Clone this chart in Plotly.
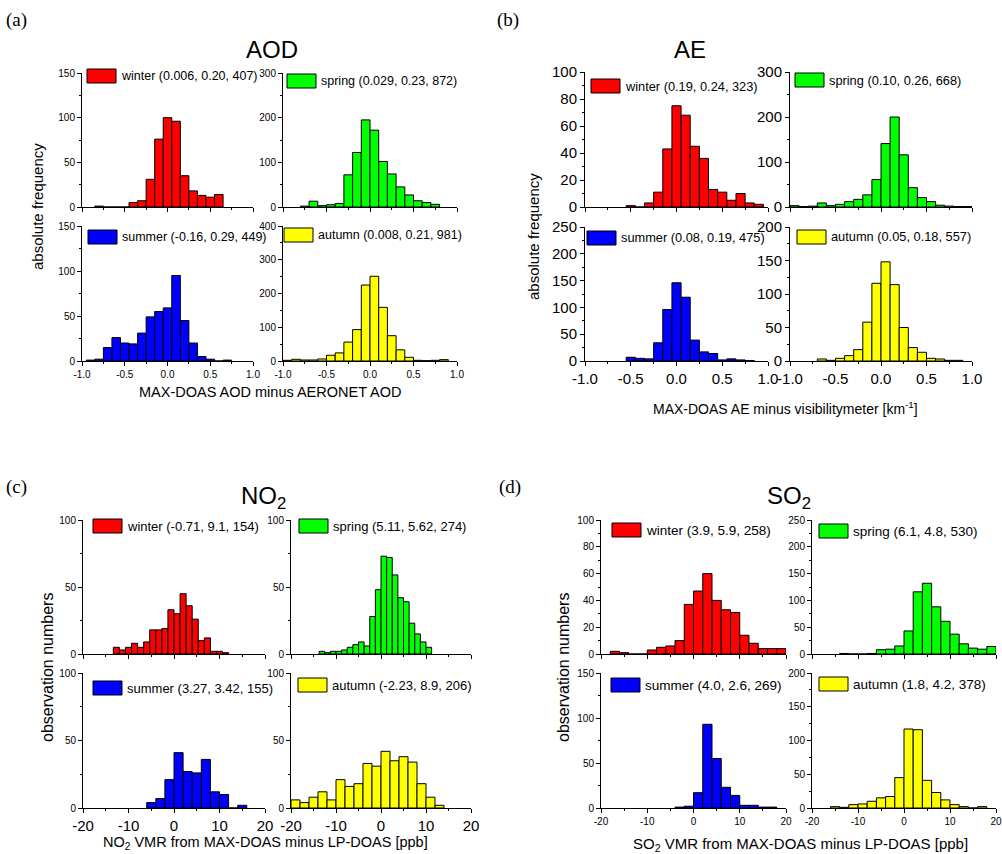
import numpy as np
import plotly.graph_objects as go

W, H = 1002, 854
FONT = "Arial, Liberation Sans, sans-serif"
SERIF = "Times New Roman, Liberation Serif, serif"

SEASONS = ["winter", "spring", "summer", "autumn"]
COLORS = ["#ff0000", "#00ff00", "#0000ff", "#ffff00"]

# ---- (a) AOD: MAX-DOAS minus AERONET (first bin left edge, bin width, counts)
aod_winter_lo, aod_winter_w = -0.85, 0.1
aod_winter = [1, 0, 0, 0, 5, 7, 31, 76, 100, 96, 35, 18, 13, 11, 14]
aod_spring_lo, aod_spring_w = -0.8, 0.1
aod_spring = [2, 13, 3, 5, 8, 72, 122, 195, 172, 102, 74, 45, 27, 14, 10, 6]
aod_summer_lo, aod_summer_w = -0.95, 0.1
aod_summer = [1, 2, 15, 26, 20, 19, 31, 49, 55, 59, 95, 45, 20, 5, 2, 0, 1]
aod_autumn_lo, aod_autumn_w = -1.0, 0.1
aod_autumn = [2, 5, 3, 3, 6, 17, 24, 56, 93, 225, 251, 159, 75, 33, 11, 2, 1, 2, 4]
aod_stats = ["0.006, 0.20, 407", "0.029, 0.23, 872", "-0.16, 0.29, 449", "0.008, 0.21, 981"]

# ---- (b) AE: MAX-DOAS minus visibilitymeter
ae_winter_lo, ae_winter_w = -0.55, 0.1
ae_winter = [1, 0, 3, 11, 43, 75, 68, 45, 36, 13, 11, 5, 10, 3, 2]
ae_spring_lo, ae_spring_w = -1.0, 0.1
ae_spring = [3, 1, 2, 9, 3, 6, 12, 17, 27, 61, 141, 200, 116, 43, 21, 12, 4, 2, 1, 1]
ae_summer_lo, ae_summer_w = -0.55, 0.1
ae_summer = [7, 5, 4, 34, 96, 146, 119, 39, 17, 14, 2, 4, 2, 1]
ae_autumn_lo, ae_autumn_w = -0.7, 0.1
ae_autumn = [3, 1, 4, 8, 17, 58, 116, 148, 114, 50, 20, 13, 4, 3, 1, 1]
ae_stats = ["0.19, 0.24, 323", "0.10, 0.26, 668", "0.08, 0.19, 475", "0.05, 0.18, 557"]

# ---- (c) NO2 VMR: MAX-DOAS minus LP-DOAS [ppb]
no2_winter_lo, no2_winter_w = -40 / 3, 4 / 3
no2_winter = [5, 3, 5, 8, 5, 9, 18, 18, 19, 33, 30, 45, 36, 26, 10, 12, 2, 2, 1]
no2_spring_lo, no2_spring_w = -13.75, 1.25
no2_spring = [2, 1, 2, 2, 3, 5, 7, 9, 6, 28, 48, 73, 72, 59, 42, 39, 23, 15, 9, 5]
no2_summer_lo, no2_summer_w = -6.0, 2.0
no2_summer = [4, 7, 21, 41, 27, 26, 36, 12, 10, 0, 2]
no2_autumn_lo, no2_autumn_w = -20.0, 2.0
no2_autumn = [6, 4, 8, 12, 6, 21, 16, 18, 33, 31, 42, 35, 38, 34, 18, 8, 2]
no2_stats = ["-0.71, 9.1, 154", "5.11, 5.62, 274", "3.27, 3.42, 155", "-2.23, 8.9, 206"]

# ---- (d) SO2 VMR: MAX-DOAS minus LP-DOAS [ppb]
so2_winter_lo, so2_winter_w = -18.0, 2.0
so2_winter = [2, 1, 0, 0, 3, 5, 6, 10, 37, 47, 60, 40, 33, 31, 14, 8, 4, 4, 4]
so2_spring_lo, so2_spring_w = -14.0, 2.0
so2_spring = [1, 0, 0, 1, 8, 9, 15, 43, 116, 132, 88, 61, 37, 19, 11, 9, 14]
so2_summer_lo, so2_summer_w = -4.0, 2.0
so2_summer = [1, 2, 17, 93, 55, 23, 14, 3, 3, 1, 1]
so2_autumn_lo, so2_autumn_w = -16.0, 2.0
so2_autumn = [2, 1, 5, 6, 10, 15, 17, 45, 117, 116, 41, 23, 12, 5, 2, 0, 2]
so2_stats = ["3.9, 5.9, 258", "6.1, 4.8, 530", "4.0, 2.6, 269", "1.8, 4.2, 378"]

fig = go.Figure()
axes = {}


def fx(v):
    return v / W


def fy(v):
    return 1 - v / H


def ticks(lo, hi, step, decimals):
    vals = np.round(np.arange(lo, hi + step / 2, step), 6)
    text = [f"{v:.{decimals}f}" for v in vals]
    return list(vals), text


def add_hist(n, lo, width, counts, color, xdom, ydom, xr, xdt, xdec, ymax, ydt,
             xfont, yfont, xlabels):
    centers = lo + width * (np.arange(len(counts)) + 0.5)
    fig.add_trace(go.Bar(
        x=centers, y=counts, width=width,
        marker=dict(color=color, line=dict(color="black", width=1)),
        xaxis=f"x{n}", yaxis=f"y{n}", showlegend=False, hoverinfo="skip"))
    common = dict(showline=True, linecolor="black", linewidth=1, ticks="outside",
                  ticklen=4, tickwidth=1, tickcolor="black", showgrid=False,
                  zeroline=False, automargin=False)
    xv, xt = ticks(xr[0], xr[1], xdt, xdec)
    xm, _ = ticks(xr[0], xr[1], xdt / 2, xdec)
    axes[f"xaxis{n}"] = dict(
        common, domain=[fx(xdom[0]), fx(xdom[1])], range=list(xr), anchor=f"y{n}",
        tickmode="array", tickvals=xv, ticktext=xt, showticklabels=xlabels,
        minor=dict(ticks="outside", ticklen=2, tickcolor="black", tickmode="array",
                   tickvals=xm),
        tickfont=dict(family=FONT, size=xfont, color="black"))
    yv, yt = ticks(0, ymax, ydt, 0)
    ym, _ = ticks(0, ymax, ydt / 2, 0)
    axes[f"yaxis{n}"] = dict(
        common, domain=[fy(ydom[1]), fy(ydom[0])], range=[0, ymax], anchor=f"x{n}",
        tickmode="array", tickvals=yv, ticktext=yt,
        minor=dict(ticks="outside", ticklen=2, tickcolor="black", tickmode="array",
                   tickvals=ym),
        tickfont=dict(family=FONT, size=yfont, color="black"))


shapes = []
annotations = []


def legend_box(x0, y0, color, text, size):
    shapes.append(dict(type="rect", xref="paper", yref="paper",
                       x0=fx(x0), x1=fx(x0 + 29), y0=fy(y0 + 14), y1=fy(y0),
                       fillcolor=color, line=dict(color="black", width=1)))
    annotations.append(dict(xref="paper", yref="paper", x=fx(x0 + 32), y=fy(y0 + 7),
                            xanchor="left", yanchor="middle", text=text, showarrow=False,
                            font=dict(family=FONT, size=size, color="black")))


def label(x, y, text, size, angle=0, family=FONT, xanchor="center"):
    annotations.append(dict(xref="paper", yref="paper", x=fx(x), y=fy(y), text=text,
                            showarrow=False, textangle=angle, xanchor=xanchor,
                            yanchor="middle", font=dict(family=family, size=size,
                                                        color="black")))


# panel geometry in pixels: columns (x0, x1), rows (top, bottom)
panels = [
    dict(series=[(aod_winter_lo, aod_winter_w, aod_winter), (aod_spring_lo, aod_spring_w, aod_spring),
                 (aod_summer_lo, aod_summer_w, aod_summer), (aod_autumn_lo, aod_autumn_w, aod_autumn)],
         stats=aod_stats, cols=[(82, 253), (283, 457)], rows=[(73, 207), (226, 361)],
         xr=(-1, 1), xdt=0.5, xdec=1, ymax=[150, 300, 150, 400], ydt=[50, 100, 50, 100],
         xfont=10, yfont=10, lfont=12.5,
         legend=[(87, 69), (287, 74), (88, 230), (284, 228)]),
    dict(series=[(ae_winter_lo, ae_winter_w, ae_winter), (ae_spring_lo, ae_spring_w, ae_spring),
                 (ae_summer_lo, ae_summer_w, ae_summer), (ae_autumn_lo, ae_autumn_w, ae_autumn)],
         stats=ae_stats, cols=[(585, 768), (790, 972)], rows=[(72, 207), (227, 361)],
         xr=(-1, 1), xdt=0.5, xdec=1, ymax=[100, 300, 250, 200], ydt=[20, 100, 50, 50],
         xfont=15, yfont=15, lfont=12.8,
         legend=[(591, 79), (795, 73), (587, 231), (797, 230)]),
    dict(series=[(no2_winter_lo, no2_winter_w, no2_winter), (no2_spring_lo, no2_spring_w, no2_spring),
                 (no2_summer_lo, no2_summer_w, no2_summer), (no2_autumn_lo, no2_autumn_w, no2_autumn)],
         stats=no2_stats, cols=[(83, 265), (291, 471)], rows=[(520, 654), (673, 808)],
         xr=(-20, 20), xdt=10, xdec=0, ymax=[100, 100, 100, 100], ydt=[50, 50, 50, 50],
         xfont=15, yfont=10, lfont=13,
         legend=[(93, 519), (299, 519), (93, 681), (298, 678)]),
    dict(series=[(so2_winter_lo, so2_winter_w, so2_winter), (so2_spring_lo, so2_spring_w, so2_spring),
                 (so2_summer_lo, so2_summer_w, so2_summer), (so2_autumn_lo, so2_autumn_w, so2_autumn)],
         stats=so2_stats, cols=[(601, 786), (812, 996)], rows=[(520, 654), (673, 808)],
         xr=(-20, 20), xdt=10, xdec=0, ymax=[100, 250, 150, 200], ydt=[20, 50, 50, 50],
         xfont=10, yfont=10, lfont=13.5,
         legend=[(612, 523), (819, 524), (611, 678), (819, 677)]),
]

n = 0
for p in panels:
    for k in range(4):
        n += 1
        lo, w, counts = p["series"][k]
        col, row = p["cols"][k % 2], p["rows"][k // 2]
        add_hist(n, lo, w, counts, COLORS[k], col, row, p["xr"], p["xdt"], p["xdec"],
                 p["ymax"][k], p["ydt"][k], p["xfont"], p["yfont"], k >= 2)
        lx, ly = p["legend"][k]
        legend_box(lx, ly, COLORS[k], f"{SEASONS[k]} ({p['stats'][k]})", p["lfont"])

# panel letters and titles
label(4, 20, "(a)", 19, family=SERIF, xanchor="left")
label(495, 20, "(b)", 19, family=SERIF, xanchor="left")
label(4, 487, "(c)", 19, family=SERIF, xanchor="left")
label(497, 487, "(d)", 19, family=SERIF, xanchor="left")
label(272, 50, "AOD", 24)
label(690, 50, "AE", 24)
label(263, 497, "NO<sub>2</sub>", 24)
label(789, 497, "SO<sub>2</sub>", 24)

# axis titles
label(38, 207, "absolute frequency", 15, angle=-90)
label(534, 237, "absolute frequency", 15, angle=-90)
label(47, 668, "observation numbers", 16, angle=-90)
label(563, 668, "observation numbers", 16, angle=-90)
label(270, 392, "MAX-DOAS AOD minus AERONET AOD", 14.5)
label(785, 408, "MAX-DOAS AE minus visibilitymeter [km<sup>-1</sup>]", 14)
label(265, 843, "NO<sub>2</sub> VMR from MAX-DOAS minus LP-DOAS [ppb]", 14.5)
label(800, 844, "SO<sub>2</sub> VMR from MAX-DOAS minus LP-DOAS [ppb]", 15)

fig.update_layout(
    width=W, height=H, margin=dict(l=0, r=0, t=0, b=0),
    paper_bgcolor="white", plot_bgcolor="white", showlegend=False,
    shapes=shapes, annotations=annotations, **axes)

fig.write_html("out.html")
